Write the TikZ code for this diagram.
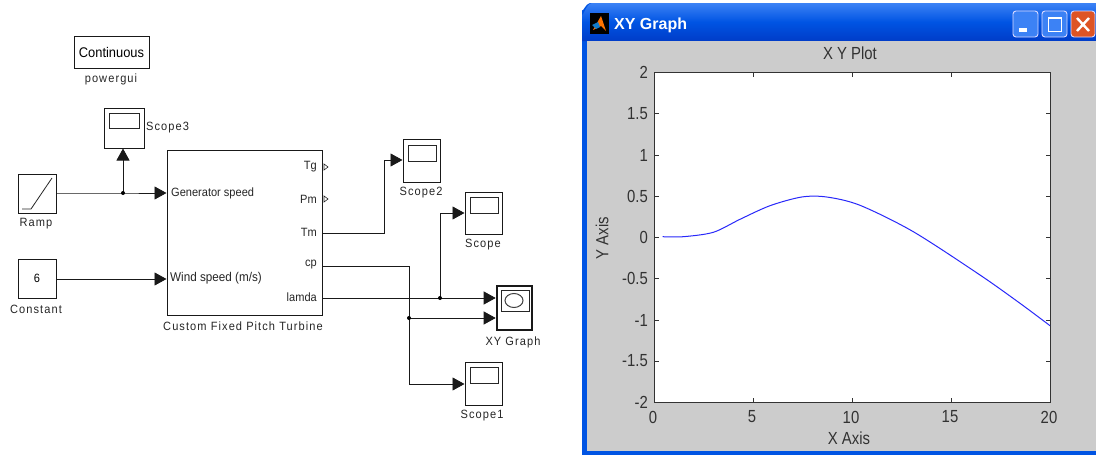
\documentclass[tikz,border=0pt]{standalone}
\usepackage{fontspec}
\setmainfont{Liberation Sans}
\newfontfamily\labfont[LetterSpace=9,FakeStretch=0.92]{Liberation Sans}
\newfontfamily\portfont[FakeStretch=0.92]{Liberation Sans}
\newfontfamily\plotfont[FakeStretch=0.85]{Liberation Sans}
\usetikzlibrary{arrows.meta}
\definecolor{wingrey}{RGB}{204,204,204}
\definecolor{xpblue}{RGB}{0,84,227}
\definecolor{xplight}{RGB}{60,130,245}
\definecolor{xpdark}{RGB}{0,60,200}
\definecolor{plotblue}{RGB}{40,40,250}
\definecolor{plottext}{RGB}{50,50,50}
\definecolor{closered}{RGB}{222,84,36}
\tikzset{
  x=1pt,y=-1pt,
  block/.style={draw=black!90,line width=1pt,fill=white,inner sep=0pt,rectangle},
  screen/.style={draw=black!85,line width=0.9pt,fill=white},
  lab/.style={inner sep=0pt,text=black!85,font=\labfont\fontsize{12}{13}\selectfont},
  portlab/.style={inner sep=0pt,text=black!85,font=\portfont\fontsize{12}{13}\selectfont},
  wire/.style={draw=black!90,line width=0.9pt},
  sig/.style={wire,-{Triangle[length=12pt,width=13pt]}},
  dot/.style={circle,fill=black,inner sep=0pt,minimum size=4pt},
  ticktxt/.style={inner sep=0pt,text=plottext,font=\plotfont\fontsize{17.5}{19}\selectfont},
  axline/.style={draw=black!80,line width=1pt},
  xpbtn/.style={draw=white!85!blue,line width=0.9pt,rounded corners=3pt},
}
\begin{document}
\begin{tikzpicture}
\useasboundingbox (0,0) rectangle (1096,455);
\fill[white] (0,0) rectangle (1096,455);

% ---------- Simulink model ----------
\node[block,minimum width=75pt,minimum height=32pt,font=\portfont\fontsize{14}{15}\selectfont] (pg) at (111.5,52) {Continuous};
\node[lab] (pglab) at (111,79) {powergui};

\node[block,minimum width=40pt,minimum height=40pt] (sc3) at (124,128) {};
\draw[screen] (109,113) rectangle (139,128);
\node[lab,anchor=west] (sc3lab) at (146,128) {Scope3};

\node[block,minimum width=38pt,minimum height=39pt] (ramp) at (37,193.5) {};
\draw[line width=0.8pt,black!85] (22,209) -- (31,209) -- (52,178);
\node[lab] (ramplab) at (36,224) {Ramp};

\node[block,minimum width=38pt,minimum height=39pt,font=\portfont\fontsize{12}{13}\selectfont] (const) at (37,278.5) {6};
\node[lab] (constlab) at (36,309) {Constant};

\node[block,minimum width=155pt,minimum height=165pt] (turb) at (244.5,232.5) {};
\node[lab] (turblab) at (243,326) {Custom Fixed Pitch Turbine};
\node[portlab,anchor=west] (pgen) at (171,193) {Generator speed};
\node[portlab,anchor=west,font=\portfont\fontsize{12.7}{13}\selectfont] (pwind) at (170,278) {Wind speed (m/s)};
\node[portlab,anchor=east] (ptg) at (317,167) {Tg};
\node[portlab,anchor=east] (ppm) at (317,199) {Pm};
\node[portlab,anchor=east] (ptm) at (317,232) {Tm};
\node[portlab,anchor=east] (pcp) at (317,265) {cp};
\node[portlab,anchor=east] (plam) at (317,297) {lamda};
\draw[line width=0.6pt,black!85] (324,164) -- (328,167) -- (324,170) -- cycle;
\draw[line width=0.6pt,black!85] (324,196) -- (328,199) -- (324,202) -- cycle;

\node[block,minimum width=37pt,minimum height=43pt] (sc2) at (421.5,160.5) {};
\draw[screen] (408,145) rectangle (436,161);
\node[lab] (sc2lab) at (421,193) {Scope2};

\node[block,minimum width=37pt,minimum height=42pt] (sc) at (483.5,213) {};
\draw[screen] (470,197) rectangle (498,213);
\node[lab] (sclab) at (483,245) {Scope};

\node[block,line width=2.6pt,minimum width=35pt,minimum height=44pt] (xy) at (514.5,308) {};
\draw[screen] (501,290) rectangle (529,311);
\draw[line width=1pt,black!75] (514,300.5) ellipse (9pt and 7pt);
\node[lab] (xylab) at (513,342) {XY Graph};

\node[block,minimum width=37pt,minimum height=43pt] (sc1) at (483.5,383.5) {};
\draw[screen] (470,367) rectangle (498,383);
\node[lab] (sc1lab) at (482,416) {Scope1};

% outputs of the turbine block
\coordinate (otm) at (322,233);
\coordinate (ocp) at (322,266);
\coordinate (olam) at (322,298);
\coordinate (jramp) at (123,193);
\coordinate (jlam) at (440,298);
\coordinate (jcp) at (409,318);

\draw[sig] (ramp.east |- jramp) -- (jramp) -- (turb.west |- jramp);
\draw[sig] (jramp) -- (sc3.south -| jramp);
\node[dot] (d1) at (jramp) {};
\draw[sig] (const.east |- 0,279) -- (turb.west |- 0,279);
\draw[sig] (otm) -- (384,233) -- (384,160) -- (sc2.west |- 0,160);
\draw[sig] (olam) -- (xy.west |- olam);
\draw[sig] (jlam) -- (440,213) -- (sc.west |- 0,213);
\node[dot] (d2) at (jlam) {};
\draw[sig] (ocp) -- (409,266) -- (409,384) -- (sc1.west |- 0,384);
\draw[sig] (jcp) -- (xy.west |- jcp);
\node[dot] (d3) at (jcp) {};

% ---------- XY Graph window ----------
\fill[xpblue] (582,455) -- (582,10) to[out=-90,in=180] (590,3) -- (1096,3) -- (1096,455) -- cycle;
\shade[top color=xplight,bottom color=xpdark,middle color=xpblue] (582,14) to[out=-90,in=180] (592,3) -- (1096,3) -- (1096,41) -- (582,41) -- cycle;
\fill[wingrey] (587,41) rectangle (1096,451);

% title bar
\fill[black] (590,13) rectangle (609,34);
\fill[orange!90!red] (593,30) -- (601,16) -- (606,31) -- (601,26) -- cycle;
\fill[cyan!60!blue] (592,25) -- (598,22) -- (600,27) -- (596,29) -- cycle;
\node[inner sep=0pt,anchor=west,text=white,font=\bfseries\fontsize{16}{18}\selectfont] (title) at (614,25) {XY Graph};
\fill[xplight,xpbtn] (1013,11) rectangle (1038,37);
\fill[white] (1019,28) rectangle (1027,32);
\fill[xplight,xpbtn] (1042,11) rectangle (1067,37);
\draw[white,line width=1pt] (1048,17) rectangle (1061,31);
\draw[white,line width=2pt] (1048,18) -- (1061,18);
\fill[closered,xpbtn] (1071,11) rectangle (1095,37);
\draw[white,line width=2.4pt] (1077,18) -- (1089,31) (1089,18) -- (1077,31);

% plot
\node[ticktxt] (ptitle) at (850,53) {X Y Plot};
\fill[white] (654,72.5) rectangle (1050,402);
\foreach \v/\yy/\t in {2/72.5/a,1.5/113.7/b,1/155/c,0.5/196.2/d,0/237.5/e,-0.5/278.7/f,-1/320/g,-1.5/361/h,-2/402/i}{
  \node[ticktxt,anchor=east] (yt\t) at (648,\yy) {\v};
  \draw[axline] (654,\yy) -- (658.5,\yy) (1050,\yy) -- (1045.5,\yy);
}
\foreach \v/\xx in {0/654,5/753,10/852,15/951,20/1050}{
  \node[ticktxt] (xt\v) at (\xx-1,417) {\v};
  \draw[axline] (\xx,72.5) -- (\xx,77) (\xx,402) -- (\xx,397.5);
}
\draw[axline] (654,72.5) rectangle (1050,402);
\node[ticktxt] (xaxis) at (849,438) {X Axis};
\node[ticktxt,rotate=90] (yaxis) at (602,238) {Y Axis};
\draw[plotblue,line width=1pt,line join=round] plot[smooth,tension=0.5] coordinates {
 (662.7,236.7) (683.3,236.7) (713.3,232.3) (740,219.3)
 (770,205.7) (801.7,197) (826.7,197) (860,205.3)
 (913.3,231.7) (980,275) (1020,303.3) (1050,325.7)};
\end{tikzpicture}
\end{document}
